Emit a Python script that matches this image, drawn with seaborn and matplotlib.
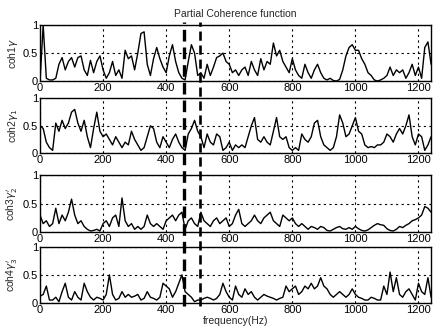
import numpy as np
import pandas as pd
import matplotlib
matplotlib.use("Agg")
import matplotlib.pyplot as plt
import matplotlib.lines as mlines
import matplotlib.transforms as mtransforms
import seaborn as sns

# Frequency step (Hz) between sampled values
step_hz = 10

coh1 = [0.0, 1.0, 0.05, 0.02, 0.02, 0.05, 0.3, 0.42, 0.2, 0.35,
        0.42, 0.25, 0.42, 0.45, 0.2, 0.1, 0.37, 0.15, 0.35, 0.45,
        0.2, 0.05, 0.15, 0.35, 0.1, 0.2, 0.05, 0.55, 0.4, 0.45,
        0.2, 0.5, 0.85, 0.88, 0.3, 0.1, 0.4, 0.6, 0.4, 0.25,
        0.15, 0.45, 0.65, 0.35, 0.15, 0.05, 0.02, 0.35, 0.65, 0.5,
        0.1, 0.15, 0.05, 0.3, 0.1, 0.25, 0.42, 0.45, 0.5, 0.35,
        0.3, 0.15, 0.2, 0.1, 0.2, 0.25, 0.1, 0.35, 0.2, 0.1,
        0.4, 0.2, 0.35, 0.3, 0.68, 0.45, 0.55, 0.35, 0.25, 0.15,
        0.4, 0.2, 0.1, 0.05, 0.3, 0.15, 0.05, 0.2, 0.3, 0.15,
        0.05, 0.02, 0.05, 0.01, 0.0, 0.03, 0.2, 0.45, 0.6, 0.65,
        0.55, 0.55, 0.4, 0.3, 0.15, 0.1, 0.02, 0.0, 0.02, 0.05,
        0.1, 0.25, 0.1, 0.2, 0.15, 0.2, 0.05, 0.15, 0.3, 0.1,
        0.25, 0.05, 0.6, 0.7, 0.3]

coh2 = [0.5, 0.45, 0.2, 0.1, 0.05, 0.55, 0.4, 0.6, 0.45, 0.55,
        0.75, 0.8, 0.55, 0.4, 0.6, 0.3, 0.1, 0.45, 0.75, 0.4,
        0.3, 0.35, 0.25, 0.15, 0.3, 0.2, 0.1, 0.2, 0.15, 0.4,
        0.25, 0.15, 0.05, 0.1, 0.3, 0.5, 0.45, 0.2, 0.1, 0.3,
        0.2, 0.1, 0.25, 0.35, 0.2, 0.1, 0.05, 0.35, 0.45, 0.6,
        0.4, 0.3, 0.1, 0.35, 0.2, 0.15, 0.35, 0.3, 0.05, 0.1,
        0.2, 0.05, 0.15, 0.1, 0.15, 0.1, 0.3, 0.5, 0.65, 0.25,
        0.2, 0.3, 0.2, 0.15, 0.4, 0.65, 0.3, 0.25, 0.3, 0.1,
        0.05, 0.1, 0.05, 0.35, 0.25, 0.2, 0.3, 0.55, 0.6, 0.3,
        0.15, 0.1, 0.05, 0.1, 0.3, 0.7, 0.55, 0.3, 0.35, 0.5,
        0.65, 0.4, 0.35, 0.15, 0.1, 0.12, 0.1, 0.15, 0.15, 0.2,
        0.35, 0.3, 0.2, 0.35, 0.45, 0.35, 0.5, 0.7, 0.3, 0.15,
        0.35, 0.3, 0.05, 0.15, 0.3]

coh3 = [0.3, 0.15, 0.2, 0.1, 0.15, 0.42, 0.15, 0.3, 0.2, 0.35,
        0.58, 0.3, 0.15, 0.2, 0.1, 0.05, 0.02, 0.03, 0.05, 0.02,
        0.15, 0.2, 0.1, 0.25, 0.3, 0.1, 0.6, 0.2, 0.1, 0.15,
        0.05, 0.1, 0.05, 0.1, 0.3, 0.15, 0.1, 0.15, 0.1, 0.05,
        0.2, 0.25, 0.3, 0.2, 0.3, 0.35, 0.05, 0.2, 0.25, 0.15,
        0.1, 0.35, 0.2, 0.15, 0.1, 0.2, 0.25, 0.15, 0.2, 0.25,
        0.1, 0.15, 0.3, 0.4, 0.15, 0.1, 0.15, 0.2, 0.3, 0.2,
        0.15, 0.25, 0.3, 0.35, 0.2, 0.15, 0.1, 0.3, 0.25, 0.2,
        0.25, 0.15, 0.1, 0.15, 0.1, 0.05, 0.1, 0.08, 0.05, 0.1,
        0.08, 0.03, 0.02, 0.05, 0.08, 0.1, 0.06, 0.05, 0.08, 0.05,
        0.1, 0.06, 0.03, 0.02, 0.04, 0.08, 0.12, 0.15, 0.13, 0.12,
        0.06, 0.03, 0.02, 0.05, 0.1, 0.08, 0.12, 0.15, 0.2, 0.22,
        0.25, 0.3, 0.45, 0.42, 0.35]

coh4 = [0.12, 0.15, 0.3, 0.05, 0.05, 0.1, 0.02, 0.2, 0.35, 0.1,
        0.05, 0.2, 0.1, 0.05, 0.35, 0.2, 0.1, 0.05, 0.1, 0.08,
        0.05, 0.15, 0.5, 0.15, 0.05, 0.08, 0.2, 0.1, 0.15, 0.1,
        0.12, 0.15, 0.05, 0.08, 0.2, 0.1, 0.08, 0.05, 0.1, 0.35,
        0.3, 0.25, 0.1, 0.2, 0.35, 0.5, 0.2, 0.15, 0.1, 0.02,
        0.05, 0.05, 0.08, 0.1, 0.08, 0.05, 0.08, 0.15, 0.35, 0.2,
        0.1, 0.05, 0.3, 0.15, 0.1, 0.25, 0.15, 0.2, 0.1, 0.05,
        0.1, 0.15, 0.12, 0.1, 0.08, 0.05, 0.08, 0.1, 0.3, 0.2,
        0.25, 0.3, 0.15, 0.2, 0.3, 0.25, 0.35, 0.25, 0.3, 0.45,
        0.3, 0.25, 0.15, 0.1, 0.15, 0.2, 0.15, 0.1, 0.15, 0.25,
        0.15, 0.1, 0.08, 0.05, 0.05, 0.1, 0.08, 0.05, 0.05, 0.3,
        0.15, 0.55, 0.2, 0.45, 0.15, 0.1, 0.2, 0.25, 0.15, 0.05,
        0.35, 0.2, 0.15, 0.45, 0.1]

series = [coh1, coh2, coh3, coh4]
ylabels = [r"coh1$\gamma$", r"coh2$\gamma_1$", r"coh3$\gamma_2^{\prime}$", r"coh4$\gamma_3^{\prime}$"]
xticks = [0, 200, 400, 600, 800, 1000, 1200]
yticks = [0, 0.5, 1]
ytick_labels = ["0", "0.5", "1"]
marker_freqs = [457, 507]
title = "Partial Coherence function"
xlabel = "frequency(Hz)"

sns.set_style("white")
plt.rcParams["font.family"] = ["Liberation Sans", "DejaVu Sans"]
plt.rcParams["mathtext.fontset"] = "dejavusans"

fig = plt.figure(figsize=(4.35, 3.35), dpi=100)
fig.patch.set_facecolor("white")

left, width = 0.092, 0.899
bottoms = [0.758, 0.543, 0.307, 0.096]
heights = [0.167, 0.163, 0.170, 0.167]

axes = []
for i, (vals, lab) in enumerate(zip(series, ylabels)):
    ax = fig.add_axes([left, bottoms[i], width, heights[i]])
    df = pd.DataFrame({"f": np.arange(len(vals)) * step_hz, "c": vals})
    sns.lineplot(data=df, x="f", y="c", ax=ax, color="black", lw=1.0)
    ax.set_xlim(0, 1240)
    ax.set_ylim(0, 1)
    ax.set_xticks(xticks)
    ax.set_yticks(yticks)
    ax.set_yticklabels(ytick_labels)
    ax.grid(True, linestyle=(0, (2, 3)), color="black", lw=0.8)
    for s in ax.spines.values():
        s.set_color("black")
        s.set_linewidth(1.0)
    ax.tick_params(direction="in", length=3, labelsize=8, pad=1.5, colors="black")
    ax.set_ylabel(lab, fontsize=7.5, labelpad=2)
    ax.set_xlabel("")
    axes.append(ax)

axes[0].set_title(title, fontsize=7.5, pad=6)
axes[-1].set_xlabel(xlabel, fontsize=7.5, labelpad=1)

trans = mtransforms.blended_transform_factory(axes[-1].transData, fig.transFigure)
for f, lw in zip(marker_freqs, [2.4, 1.9]):
    line = mlines.Line2D([f, f], [0.088, 0.935], transform=trans, color="black",
                         lw=lw, linestyle=(0, (3.5, 1.8)))
    fig.add_artist(line)

fig.savefig("out.png", dpi=100, facecolor="white")
